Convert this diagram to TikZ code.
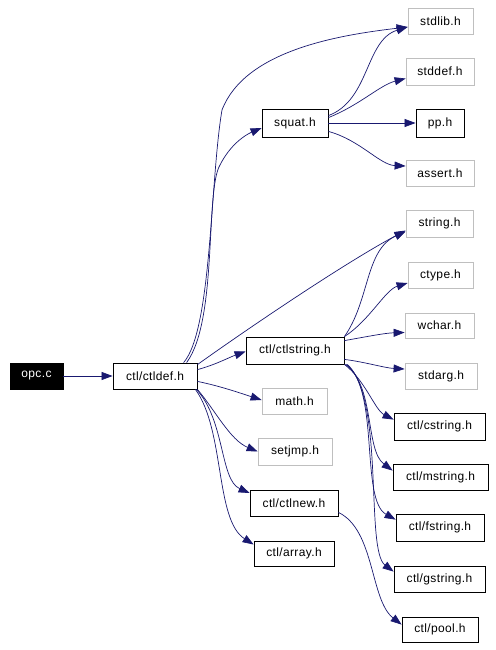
\documentclass[tikz,border=0pt]{standalone}
\usepackage{fontspec}
\setmainfont{Liberation Sans}[LetterSpace=3]
\usetikzlibrary{arrows.meta}
\definecolor{edgeblue}{RGB}{25,25,112}
\definecolor{gborder}{RGB}{191,191,191}
\begin{document}
\begin{tikzpicture}[x=1pt,y=-1pt,
  box/.style={draw=black,line width=0.8pt,inner sep=0pt,minimum height=26pt,font=\fontsize{12}{13}\selectfont},
  gbox/.style={box,draw=gborder},
  dep/.style={draw=edgeblue,line width=0.7pt,-{Triangle[length=11pt,width=8pt]}}]
\useasboundingbox (0,0) rectangle (495,650);
% nodes
\node[box,fill=black,text=white,minimum width=53pt] (opc) at (36.5,376) {opc.c};
\node[box,minimum width=84pt] (ctldef) at (155,376) {ctl/ctldef.h};
\node[gbox,minimum width=65pt] (stdlib) at (440.5,21) {stdlib.h};
\node[gbox,minimum width=68pt,minimum height=27pt] (stddef) at (440,71.5) {stddef.h};
\node[box,minimum width=48pt,minimum height=28pt] (pp) at (440,123) {pp.h};
\node[gbox,minimum width=68pt] (assert) at (440,173) {assert.h};
\node[box,minimum width=66pt,minimum height=28pt] (squat) at (295,123) {squat.h};
\node[gbox,minimum width=67pt,minimum height=27pt] (string) at (439.5,223.5) {string.h};
\node[gbox,minimum width=65pt] (ctype) at (440.5,275) {ctype.h};
\node[gbox,minimum width=69pt,minimum height=25pt] (wchar) at (439.5,325.5) {wchar.h};
\node[gbox,minimum width=72pt] (stdarg) at (441,376) {stdarg.h};
\node[box,minimum width=98pt,minimum height=27pt] (ctlstring) at (295,350.5) {ctl/ctlstring.h};
\node[gbox,minimum width=65pt] (math) at (294.5,401) {math.h};
\node[gbox,minimum width=74pt,minimum height=27pt] (setjmp) at (295,451.5) {setjmp.h};
\node[box,minimum width=88pt] (ctlnew) at (294,503) {ctl/ctlnew.h};
\node[box,minimum width=80pt,minimum height=25pt] (array) at (294,553.5) {ctl/array.h};
\node[box,minimum width=91pt,minimum height=27pt] (cstring) at (439.5,426.5) {ctl/cstring.h};
\node[box,minimum width=95pt] (mstring) at (440.5,477) {ctl/mstring.h};
\node[box,minimum width=88pt,minimum height=27pt] (fstring) at (440,527.5) {ctl/fstring.h};
\node[box,minimum width=91pt] (gstring) at (439.5,579) {ctl/gstring.h};
\node[box,minimum width=76pt,minimum height=25pt] (pool) at (440,629.5) {ctl/pool.h};
% edges
\draw[dep] (opc) -- (ctldef);
\draw[dep] ([shift={(71,0)}]ctldef.north west) .. controls (212,330) and (210,180) .. (222,110) .. controls (245,50) and (340,35) .. ([shift={(0,6)}]stdlib.west);
\draw[dep] ([shift={(74,0)}]ctldef.north west) .. controls (218,320) and (205,190) .. (220,165) .. controls (230,145) and (245,135) .. ([shift={(0,5)}]squat.west);
\draw[dep] ([shift={(0,2)}]ctldef.north east) .. controls (260,320) and (350,260) .. ([shift={(0,7)}]string.west);
\draw[dep] ([shift={(0,7)}]ctldef.north east) .. controls (215,365) and (230,357) .. ([shift={(0,1)}]ctlstring.west);
\draw[dep] ([shift={(0,-8)}]ctldef.south east) .. controls (220,386) and (240,393) .. ([shift={(0,-1)}]math.west);
\draw[dep] (ctldef.south east) .. controls (215,410) and (230,440) .. ([shift={(0,0)}]setjmp.west);
\draw[dep] ([shift={(-1,0)}]ctldef.south east) .. controls (225,420) and (220,480) .. ([shift={(0,-10)}]ctlnew.west);
\draw[dep] ([shift={(-2,0)}]ctldef.south east) .. controls (225,430) and (215,520) .. ([shift={(0,-9)}]array.west);
\draw[dep] ([shift={(0,7)}]squat.north east) .. controls (370,100) and (365,40) .. ([shift={(0,6)}]stdlib.west);
\draw[dep] ([shift={(0,9)}]squat.north east) .. controls (360,105) and (380,85) .. ([shift={(0,7)}]stddef.west);
\draw[dep] (squat) -- (pp);
\draw[dep] ([shift={(0,-6)}]squat.south east) .. controls (360,140) and (380,165) .. ([shift={(0,-7)}]assert.west);
\draw[dep] (ctlstring.north east) .. controls (370,300) and (365,250) .. ([shift={(0,8)}]string.west);
\draw[dep] (ctlstring.north east) .. controls (370,320) and (385,290) .. ([shift={(0,8)}]ctype.west);
\draw[dep] ([shift={(0,4)}]ctlstring.north east) .. controls (365,337) and (385,333) .. ([shift={(0,7)}]wchar.west);
\draw[dep] ([shift={(0,-5)}]ctlstring.south east) .. controls (365,362) and (385,368) .. ([shift={(0,-7)}]stdarg.west);
\draw[dep] (ctlstring.south east) .. controls (365,380) and (375,410) .. ([shift={(0,7)}]cstring.north west);
\draw[dep] ([shift={(1,0)}]ctlstring.south east) .. controls (375,385) and (365,450) .. ([shift={(0,7)}]mstring.north west);
\draw[dep] ([shift={(2,0)}]ctlstring.south east) .. controls (380,390) and (360,500) .. ([shift={(0,6)}]fstring.north west);
\draw[dep] ([shift={(3,0)}]ctlstring.south east) .. controls (385,400) and (365,550) .. ([shift={(0,6)}]gstring.north west);
\draw[dep] ([shift={(0,-4)}]ctlnew.south east) .. controls (375,530) and (370,600) .. ([shift={(0,8)}]pool.north west);
\end{tikzpicture}
\end{document}
